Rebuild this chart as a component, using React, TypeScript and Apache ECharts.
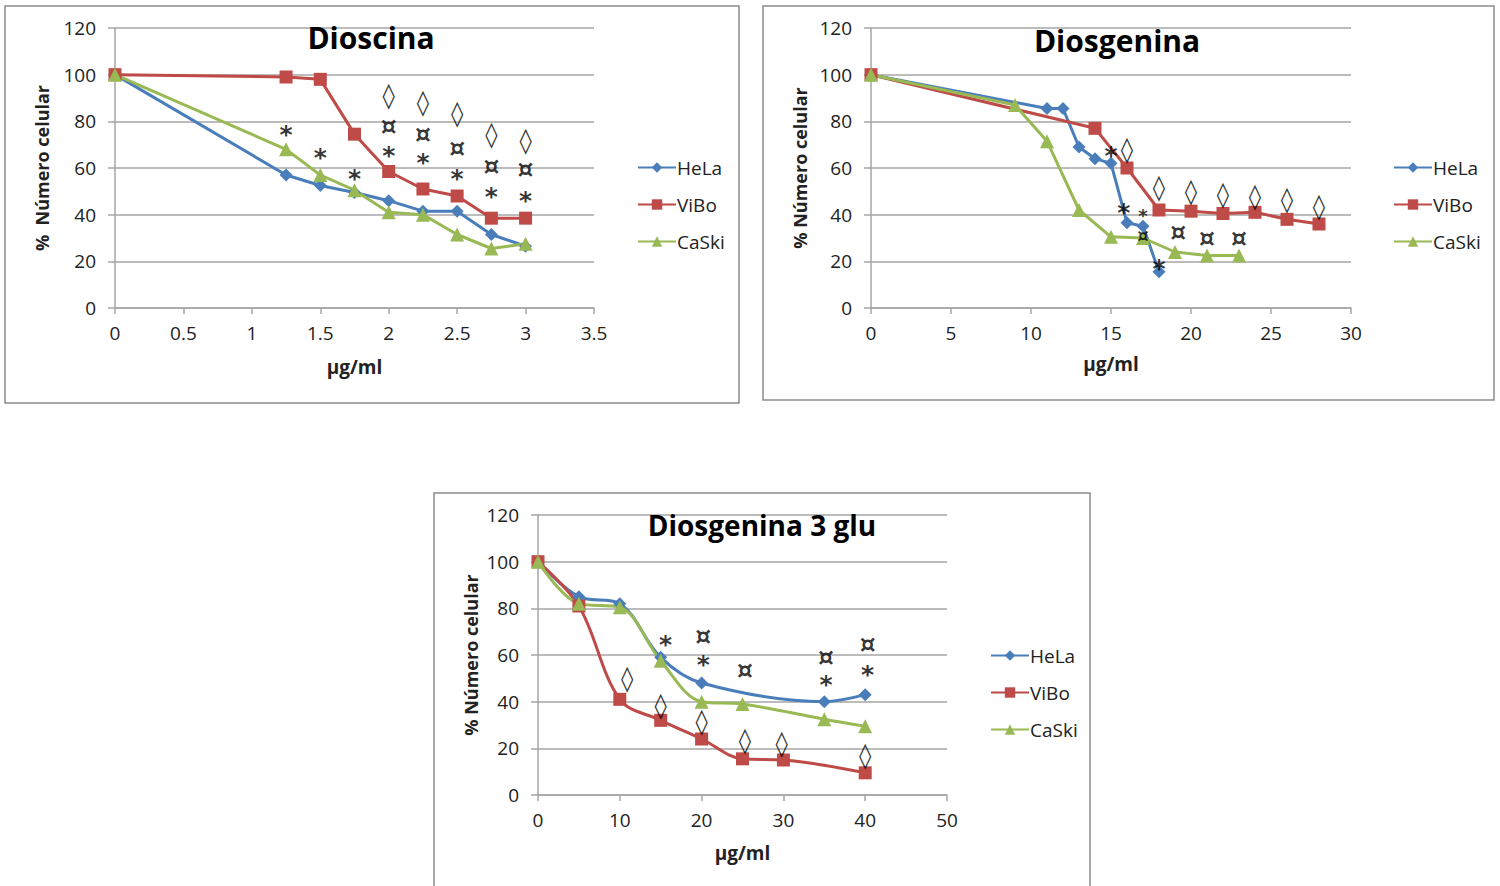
import React, { useEffect, useRef } from "react";
import * as echarts from "echarts";

// ---------- Common ----------
const seriesNames = ["HeLa", "ViBo", "CaSki"];
const seriesColors = ["#4A7EBB", "#BE4B48", "#98B954"];
const seriesSymbols = ["diamond", "rect", "triangle"];
const symbolSizes = [13, 13, 14];
const yTitle = "% Número celular";
const xTitle = "µg/ml";

// ---------- Panel 1: Dioscina ----------
const p1Title = "Dioscina";
const p1Dose = [0, 1.25, 1.5, 1.75, 2, 2.25, 2.5, 2.75, 3];
const p1HeLa = [100, 57, 52.5, 49.5, 46, 41.5, 41.5, 31.5, 26.5];
const p1ViBo = [100, 99, 98, 74.5, 58.5, 51, 48, 38.5, 38.5];
const p1CaSki = [100, 68, 57, 50.5, 41, 40, 31.5, 25.5, 27.5];
const p1Notes: [number, number, string][] = [
  [1.25, 77, "*"], [1.5, 67, "*"], [1.75, 58, "*"],
  [2, 91, "◊"], [2, 78, "¤"], [2, 68, "*"],
  [2.25, 88, "◊"], [2.25, 74.5, "¤"], [2.25, 65, "*"],
  [2.5, 83.5, "◊"], [2.5, 68.5, "¤"], [2.5, 58, "*"],
  [2.75, 74.5, "◊"], [2.75, 60.5, "¤"], [2.75, 50.5, "*"],
  [3, 72, "◊"], [3, 59.5, "¤"], [3, 48.5, "*"],
];

// ---------- Panel 2: Diosgenina ----------
const p2Title = "Diosgenina";
const p2HeLaDose = [0, 11, 12, 13, 14, 15, 16, 17, 18];
const p2HeLa = [100, 85.5, 85.5, 69, 64, 62, 36.5, 35, 15.5];
const p2ViBoDose = [0, 14, 16, 18, 20, 22, 24, 26, 28];
const p2ViBo = [100, 77, 60, 42, 41.5, 40.5, 41, 38, 36];
const p2CaSkiDose = [0, 9, 11, 13, 15, 17, 19, 21, 23];
const p2CaSki = [100, 87, 71.5, 42, 30.5, 30, 24, 22.5, 22.5];
const p2Notes: [number, number, string][] = [
  [15, 68, "*"], [16, 68, "◊"], [15.8, 43.5, "*"], [17, 41.5, "*"],
  [17, 31, "¤"], [18, 19.5, "*"],
  [18, 51.5, "◊"], [20, 50, "◊"], [22, 48.5, "◊"], [24, 48, "◊"],
  [26, 46.5, "◊"], [28, 43.5, "◊"],
  [19.2, 32.3, "¤"], [21, 30, "¤"], [23, 30, "¤"],
];
// indices of panel-2 notes drawn in a compact size (they sit very close together)
const p2CompactNotes = [3, 4];

// ---------- Panel 3: Diosgenina 3 glu ----------
const p3Title = "Diosgenina 3 glu";
const p3HeLaDose = [0, 5, 10, 15, 20, 35, 40];
const p3HeLa = [100, 85, 82, 59, 48, 40, 43];
const p3ViBoDose = [0, 5, 10, 15, 20, 25, 30, 40];
const p3ViBo = [100, 81, 41, 32, 24, 15.5, 15, 9.5];
const p3CaSkiDose = [0, 5, 10, 15, 20, 25, 35, 40];
const p3CaSki = [100, 82, 80.5, 57.5, 40, 39, 32.5, 29.5];
const p3Notes: [number, number, string][] = [
  [10.9, 50, "◊"], [15, 38.5, "◊"], [20, 31.5, "◊"], [25.3, 23.5, "◊"],
  [29.8, 22, "◊"], [40, 17, "◊"],
  [15.6, 67, "*"], [20.2, 68, "¤"], [20.2, 58.5, "*"], [25.3, 53.3, "¤"],
  [35.2, 59, "¤"], [35.2, 50, "*"], [40.3, 64.5, "¤"], [40.3, 54.3, "*"],
];

const FONT = "'Open Sans', 'DejaVu Sans', sans-serif";

function pairs(xs: number[], ys: number[]) {
  return xs.map((x, i) => [x, ys[i]]);
}

export default function App() {
  const ref = useRef<HTMLDivElement>(null);

  useEffect(() => {
    if (!ref.current) return;
    const chart = echarts.init(ref.current, undefined, { renderer: "svg" });

    const grids = [
      { left: 115, top: 28, width: 479, height: 280, xMax: 3.5, xInt: 0.5, title: p1Title, tx: 371, ty: 37, legendLeft: 632, legendTop: 153, yName: "%  Número celular", yGap: 64, xGap: 49 },
      { left: 871, top: 28, width: 480, height: 280, xMax: 30, xInt: 5, title: p2Title, tx: 1117, ty: 40, legendLeft: 1388, legendTop: 153, yName: yTitle, yGap: 62, xGap: 46 },
      { left: 538, top: 515, width: 409, height: 280, xMax: 50, xInt: 10, title: p3Title, tx: 762, ty: 525, legendLeft: 985, legendTop: 641, yName: yTitle, yGap: 58, xGap: 48 },
    ];

    const seriesData = [
      [pairs(p1Dose, p1HeLa), pairs(p1Dose, p1ViBo), pairs(p1Dose, p1CaSki)],
      [pairs(p2HeLaDose, p2HeLa), pairs(p2ViBoDose, p2ViBo), pairs(p2CaSkiDose, p2CaSki)],
      [pairs(p3HeLaDose, p3HeLa), pairs(p3ViBoDose, p3ViBo), pairs(p3CaSkiDose, p3CaSki)],
    ];
    const notes = [p1Notes, p2Notes, p3Notes];
    const compact = [[] as number[], p2CompactNotes, [] as number[]];

    const axisGray = "#a6a6a6";
    const series: any[] = [];
    seriesData.forEach((group, gi) => {
      group.forEach((data, si) => {
        series.push({
          type: "line",
          name: seriesNames[si],
          xAxisIndex: gi,
          yAxisIndex: gi,
          data,
          smooth: gi === 2 ? 0.35 : false,
          symbol: seriesSymbols[si],
          symbolSize: symbolSizes[si],
          itemStyle: { color: seriesColors[si] },
          lineStyle: { color: seriesColors[si], width: 3 },
          z: 3,
        });
      });
      series.push({
        type: "scatter",
        name: "notes" + gi,
        xAxisIndex: gi,
        yAxisIndex: gi,
        symbolSize: 0,
        silent: true,
        z: 5,
        data: notes[gi].map(([x, y, t], ni) => {
          const small = compact[gi].includes(ni);
          const lbl: any = {};
          if (t === "*") lbl.offset = [0, small ? 4 : 6];
          if (small) {
            lbl.fontSize = 18;
            lbl.lineHeight = 18;
          }
          return { value: [x, y], name: t, label: lbl };
        }),
        label: {
          show: true,
          position: "inside",
          formatter: "{b}",
          fontSize: 25,
          fontWeight: "bold",
          fontFamily: "'DejaVu Sans', sans-serif",
          color: "#000",
        },
      });
    });

    const option: any = {
      animation: false,
      backgroundColor: "#ffffff",
      grid: grids.map((g) => ({ left: g.left, top: g.top, width: g.width, height: g.height, containLabel: false })),
      xAxis: grids.map((g, i) => ({
        type: "value",
        gridIndex: i,
        min: 0,
        max: g.xMax,
        interval: g.xInt,
        name: xTitle,
        nameLocation: "middle",
        nameGap: g.xGap,
        nameTextStyle: { fontSize: 19, fontWeight: "bold", color: "#222", fontFamily: FONT },
        axisLine: { show: true, lineStyle: { color: axisGray, width: 1.5 } },
        axisTick: { show: true, length: 6, lineStyle: { color: axisGray, width: 1.5 } },
        axisLabel: { fontSize: 19, color: "#222", margin: 15, fontFamily: FONT },
        splitLine: { show: false },
      })),
      yAxis: grids.map((g, i) => ({
        type: "value",
        gridIndex: i,
        min: 0,
        max: 120,
        interval: 20,
        name: g.yName,
        nameLocation: "middle",
        nameGap: g.yGap,
        nameTextStyle: { fontSize: 18, fontWeight: "bold", color: "#222", fontFamily: FONT },
        axisLine: { show: true, lineStyle: { color: axisGray, width: 1.5 } },
        axisTick: { show: true, length: 7, lineStyle: { color: axisGray, width: 1.5 } },
        axisLabel: { fontSize: 19, color: "#222", margin: 19, fontFamily: FONT },
        splitLine: { show: true, lineStyle: { color: axisGray, width: 1.5 } },
      })),
      legend: grids.map((g) => ({
        data: seriesNames,
        orient: "vertical",
        left: g.legendLeft,
        top: g.legendTop,
        itemWidth: 38,
        itemHeight: 13,
        itemGap: 18,
        selectedMode: false,
        textStyle: { fontSize: 19, color: "#222", fontFamily: FONT, padding: [0, 0, 0, -4] },
      })),
      graphic: [
        { type: "rect", shape: { x: 5, y: 6, width: 734, height: 397 }, style: { fill: "none", stroke: "#8c8c8c", lineWidth: 1.5 }, z: -1 },
        { type: "rect", shape: { x: 763, y: 6, width: 731, height: 394 }, style: { fill: "none", stroke: "#8c8c8c", lineWidth: 1.5 }, z: -1 },
        { type: "rect", shape: { x: 434, y: 493, width: 656, height: 420 }, style: { fill: "none", stroke: "#8c8c8c", lineWidth: 1.5 }, z: -1 },
        ...grids.map((g, i) => ({
          type: "text",
          x: g.tx,
          y: g.ty,
          z: 10,
          style: {
            text: g.title,
            fontSize: i === 2 ? 28 : 30,
            fontWeight: "bold",
            fontFamily: FONT,
            fill: "#000",
            align: "center",
            verticalAlign: "middle",
          },
        })),
      ],
      series,
    };

    chart.setOption(option);
    return () => chart.dispose();
  }, []);

  return (
    <div
      ref={ref}
      style={{ position: "fixed", left: 0, top: 0, width: 1500, height: 886, background: "#fff" }}
    />
  );
}
